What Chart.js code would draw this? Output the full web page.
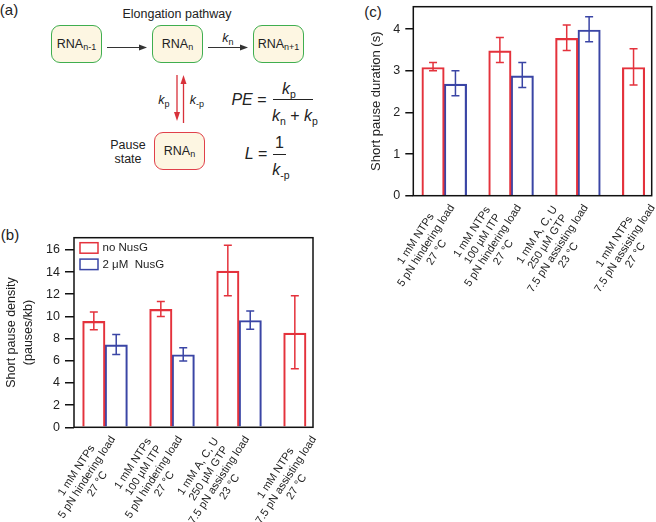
<!DOCTYPE html>
<html>
<head>
<meta charset="utf-8">
<script src="https://cdn.jsdelivr.net/npm/chart.js@4.4.1/dist/chart.umd.min.js"></script>
<style>
  body { margin: 0; width: 656px; height: 522px; position: relative; overflow: hidden; background: #fff;
         font-family: "Liberation Sans", Arial, sans-serif; color: #222; }
  .t { position: absolute; transform: translate(-50%, -50%); white-space: nowrap; line-height: 1; }
  .node { position: absolute; width: 51px; height: 38px; box-sizing: border-box; border: 1.5px solid #3fae4f;
          border-radius: 9px; background: #fdf6e2; display: flex; align-items: center; justify-content: center;
          font-size: 12.5px; }
  .node.pause { border-color: #e0404a; }
  .s { font-size: 9px; position: relative; top: 3px; }
  .f { font-size: 16px; }
  .f .s { font-size: 10.5px; top: 4px; }
  .bar { position: absolute; height: 1.2px; background: #222; }
  canvas { position: absolute; }
</style>
</head>
<body>

<!-- (a) scheme -->
<div class="t" style="left:9px;top:9px;font-size:15px">(a)</div>
<div class="t" style="left:177px;top:14px;font-size:12.5px">Elongation pathway</div>
<div class="node" style="left:51px;top:25px">RNA<span class="s">n-1</span></div>
<div class="node" style="left:152px;top:25px">RNA<span class="s">n</span></div>
<div class="node" style="left:253px;top:25px">RNA<span class="s">n+1</span></div>
<div class="node pause" style="left:154px;top:132px">RNA<span class="s">n</span></div>
<svg style="position:absolute;left:0;top:0" width="330" height="200">
  <line x1="107" y1="47.5" x2="141" y2="47.5" stroke="#333" stroke-width="1.2"/>
  <polygon points="147,47.5 139,44.5 139,50.5" fill="#333"/>
  <line x1="208" y1="47.5" x2="242" y2="47.5" stroke="#333" stroke-width="1.2"/>
  <polygon points="248,47.5 240,44.5 240,50.5" fill="#333"/>
  <line x1="177" y1="75" x2="177" y2="114" stroke="#d8313a" stroke-width="1.3"/>
  <polygon points="177,121 174,112 180,112" fill="#d8313a"/>
  <line x1="183.5" y1="123" x2="183.5" y2="82" stroke="#d8313a" stroke-width="1.3"/>
  <polygon points="183.5,75 180.5,84 186.5,84" fill="#d8313a"/>
</svg>
<div class="t" style="left:228px;top:38px;font-size:12.5px"><i>k</i><span class="s">n</span></div>
<div class="t" style="left:164px;top:100px;font-size:12.5px"><i>k</i><span class="s">p</span></div>
<div class="t" style="left:197px;top:100px;font-size:12.5px"><i>k</i><span class="s">-p</span></div>
<div class="t" style="left:128px;top:145px;font-size:12.5px">Pause</div>
<div class="t" style="left:128px;top:159px;font-size:12.5px">state</div>

<div class="t f" style="left:249px;top:100px"><i>PE</i> =</div>
<div class="t f" style="left:289px;top:89px"><i>k</i><span class="s">p</span></div>
<div class="bar" style="left:273px;top:98.5px;width:40px"></div>
<div class="t f" style="left:295px;top:116px"><i>k</i><span class="s">n</span> + <i>k</i><span class="s">p</span></div>
<div class="t f" style="left:256px;top:154px"><i>L</i> =</div>
<div class="t f" style="left:279.5px;top:143px">1</div>
<div class="bar" style="left:273px;top:154px;width:13px"></div>
<div class="t f" style="left:281px;top:170px"><i>k</i><span class="s">-p</span></div>

<div class="t" style="left:10px;top:234px;font-size:15px">(b)</div>
<div class="t" style="left:373px;top:11px;font-size:15px">(c)</div>

<canvas id="density-chart" width="330" height="302" style="left:0;top:220px"></canvas>
<canvas id="duration-chart" width="326" height="300" style="left:330px;top:0"></canvas>

<script>
// conditions (x categories), one entry per bar group
var conditions = [
  ['1 mM NTPs', '5 pN hindering load', '27 °C'],
  ['1 mM NTPs', '100 µM ITP', '5 pN hindering load', '27 °C'],
  ['1 mM A, C, U', '250 µM GTP', '7.5 pN assisting load', '23 °C'],
  ['1 mM NTPs', '7.5 pN assisting load', '27 °C']
];
var groupPos = [0, 1, 2, 3];
var seriesNames = ['no NusG', '2 μM  NusG'];

// (b) short pause density (pauses/kb)
var densityNoNusG     = [9.55, 10.63, 14.08, 8.5];
var densityNoNusGLow  = [8.8, 10.0, 11.86, 5.28];
var densityNoNusGHigh = [10.39, 11.35, 16.42, 11.86];
var densityNusG       = [7.44, 6.54, 9.63];
var densityNusGLow    = [6.57, 5.97, 8.85];
var densityNusGHigh   = [8.37, 7.17, 10.48];
var densityTicks = [0, 2, 4, 6, 8, 10, 12, 14, 16];

// (c) short pause duration (s)
var durationNoNusG     = [3.08, 3.48, 3.78, 3.08];
var durationNoNusGLow  = [3.0, 3.2, 3.49, 2.66];
var durationNoNusGHigh = [3.2, 3.8, 4.1, 3.53];
var durationNusG       = [2.68, 2.88, 3.98];
var durationNusGLow    = [2.4, 2.6, 3.7];
var durationNusGHigh   = [3.0, 3.2, 4.3];
var durationTicks = [0, 1, 2, 3, 4];

var FONT = '"Liberation Sans", Arial, sans-serif';
var RED = '#e4323c';
var BLUE = '#3a45a5';

// error bars from the y scale
var errorBars = {
  id: 'errorBars',
  afterDatasetsDraw: function(chart) {
    var ctx = chart.ctx, y = chart.scales.y;
    chart.data.datasets.forEach(function(ds, di) {
      chart.getDatasetMeta(di).data.forEach(function(bar, i) {
        var lo = y.getPixelForValue(ds.errLow[i]);
        var hi = y.getPixelForValue(ds.errHigh[i]);
        ctx.save();
        ctx.strokeStyle = ds.borderColor;
        ctx.lineWidth = 1.5;
        ctx.beginPath();
        ctx.moveTo(bar.x, lo); ctx.lineTo(bar.x, hi);
        ctx.moveTo(bar.x - 4, lo); ctx.lineTo(bar.x + 4, lo);
        ctx.moveTo(bar.x - 4, hi); ctx.lineTo(bar.x + 4, hi);
        ctx.stroke();
        ctx.restore();
      });
    });
  }
};

// box round the plot area
var frame = {
  id: 'frame',
  afterDraw: function(chart) {
    var a = chart.chartArea, ctx = chart.ctx;
    ctx.save();
    ctx.strokeStyle = '#111';
    ctx.lineWidth = 1.5;
    ctx.strokeRect(a.left, a.top, a.right - a.left, a.bottom - a.top);
    ctx.restore();
  }
};

// rotated multi line condition labels under each group
var groupLabels = {
  id: 'groupLabels',
  afterDraw: function(chart) {
    var ctx = chart.ctx, x = chart.scales.x, base = chart.chartArea.bottom;
    var lh = 12.5;
    ctx.save();
    ctx.font = '11px ' + FONT;
    ctx.fillStyle = '#222';
    ctx.textAlign = 'center';
    ctx.textBaseline = 'middle';
    conditions.forEach(function(lines, i) {
      var widths = lines.map(function(l) { return ctx.measureText(l).width; });
      var w = Math.max.apply(null, widths);
      var longest = widths.indexOf(w);
      ctx.save();
      ctx.translate(x.getPixelForValue(groupPos[i]) + 8, base + 10);
      ctx.rotate(-57 * Math.PI / 180);
      lines.forEach(function(l, j) {
        ctx.fillText(l, -w / 2, (j - longest) * lh);
      });
      ctx.restore();
    });
    ctx.restore();
  }
};

var boxLegend = {
  id: 'boxLegend',
  afterDraw: function(chart, args, opts) {
    if (!opts.show) return;
    var ctx = chart.ctx, a = chart.chartArea;
    ctx.save();
    ctx.font = '11.5px ' + FONT;
    ctx.textBaseline = 'middle';
    chart.data.datasets.forEach(function(ds, i) {
      var top = a.top + 5 + i * 16.4;
      ctx.strokeStyle = ds.borderColor;
      ctx.lineWidth = 1.5;
      ctx.strokeRect(a.left + 6, top, 18, 10.5);
      ctx.fillStyle = '#222';
      ctx.fillText(ds.label, a.left + 28.5, top + 5.5);
    });
    ctx.restore();
  }
};

function points(vals) {
  return vals.map(function(v, i) { return {x: groupPos[i], y: v}; });
}

function barChart(id, s) {
  return new Chart(document.getElementById(id).getContext('2d'), {
    type: 'bar',
    data: {
      datasets: [{
        label: seriesNames[0],
        data: points(s.red), errLow: s.redLow, errHigh: s.redHigh,
        borderColor: RED, backgroundColor: 'rgba(255,255,255,0)', borderWidth: 1.5, barThickness: 22.4
      }, {
        label: seriesNames[1],
        data: points(s.blue), errLow: s.blueLow, errHigh: s.blueHigh,
        borderColor: BLUE, backgroundColor: 'rgba(255,255,255,0)', borderWidth: 1.5, barThickness: 22.4
      }]
    },
    options: {
      responsive: false,
      animation: false,
      devicePixelRatio: 1,
      layout: { padding: s.padding },
      plugins: { legend: { display: false }, tooltip: { enabled: false }, boxLegend: { show: s.legend } },
      scales: {
        x: {
          type: 'linear', min: -0.463, max: 3.104, offset: false,
          afterFit: function(sc) { sc.height = s.xHeight; },
          grid: { display: false }, border: { display: false }, ticks: { display: false }
        },
        y: {
          min: 0, max: s.max,
          afterBuildTicks: function(sc) { sc.ticks = s.ticks.map(function(v) { return {value: v}; }); },
          afterFit: function(sc) { sc.width = s.yWidth; sc.paddingTop = 0; sc.paddingBottom = 0; },
          grid: { drawOnChartArea: false, drawTicks: true, tickLength: s.tickLength, color: '#111', lineWidth: 1.5 },
          border: { display: false },
          ticks: { color: '#222', padding: 5, font: { family: FONT, size: 12.5 } },
          title: { display: true, text: s.title, color: '#222', padding: { top: s.titlePad },
                   font: { family: FONT, size: s.titleSize, lineHeight: 1.35 } }
        }
      }
    },
    plugins: [errorBars, frame, groupLabels, boxLegend]
  });
}

barChart('density-chart', {
  red: densityNoNusG, redLow: densityNoNusGLow, redHigh: densityNoNusGHigh,
  blue: densityNusG, blueLow: densityNusGLow, blueHigh: densityNusGHigh,
  max: 17.1, ticks: densityTicks,
  title: ['Short pause density', '(pauses/kb)'], titleSize: 12.5, titlePad: 3.6,
  padding: { top: 17.7, right: 17, left: 0, bottom: 0 }, xHeight: 94.7, yWidth: 74, tickLength: 9,
  legend: true
});

barChart('duration-chart', {
  red: durationNoNusG, redLow: durationNoNusGLow, redHigh: durationNoNusGHigh,
  blue: durationNusG, blueLow: durationNusGLow, blueHigh: durationNusGHigh,
  max: 4.54, ticks: durationTicks,
  title: 'Short pause duration (s)', titleSize: 13, titlePad: 37.7,
  padding: { top: 6.7, right: 4.3, left: 0, bottom: 0 }, xHeight: 104.3, yWidth: 83.3, tickLength: 8,
  legend: false
});
</script>
</body>
</html>
